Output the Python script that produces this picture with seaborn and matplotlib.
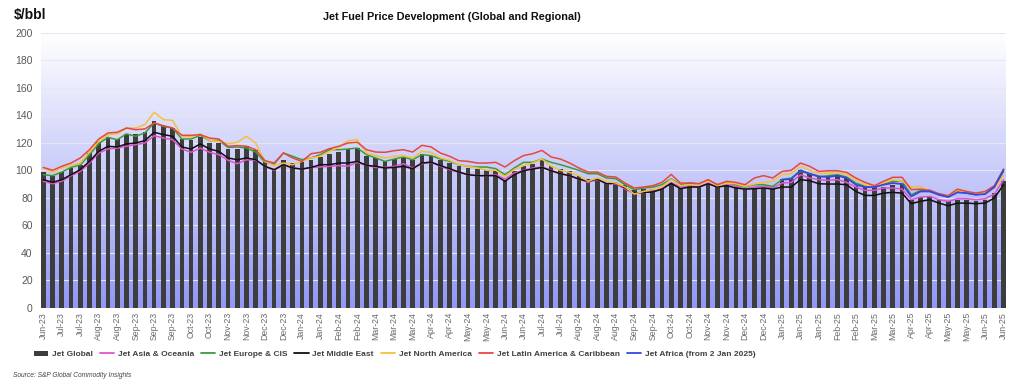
import numpy as np
import pandas as pd
import matplotlib
matplotlib.use("Agg")
import matplotlib.pyplot as plt
from matplotlib.colors import LinearSegmentedColormap
from matplotlib.lines import Line2D
from matplotlib.patches import Patch
import seaborn as sns

# ---------------- data ----------------
dates = pd.date_range("2023-06-23", periods=105, freq="7D")
tick_labels = [d.strftime("%b-%y") for d in dates]

jet_global = [98.5, 96.1, 98.5, 101.7, 103.9, 112.6, 120.4, 124.3, 123.1, 126.7,
              126.7, 128.2, 135.7, 132.3, 130.6, 122.8, 122.3, 124.3, 119.9, 119.9,
              115.5, 115.5, 118.0, 114.5, 106.0, 101.0, 107.7, 105.3, 105.8, 107.7,
              109.4, 112.1, 113.3, 115.5,
              116.2, 110.2, 109.0, 107.0, 108.2, 109.7, 107.7, 112.1, 110.7, 107.7,
              105.3, 103.4, 101.7, 101.2, 100.0, 100.0, 93.2, 99.2, 102.9, 104.8,
              107.3, 103.4, 100.9, 99.2, 96.1, 93.6, 93.6, 90.7, 90.7, 89.5,
              85.9, 86.3, 86.3, 87.8,
              91.0, 87.1, 89.5, 88.3, 90.7, 87.8, 89.5, 87.8, 86.3, 87.1,
              87.1, 86.3, 93.6, 93.6, 100.0, 98.0, 96.1, 96.1, 96.1, 94.4,
              88.8, 87.8, 87.8, 87.8, 89.5, 90.2, 78.6, 80.5, 81.0, 78.6,
              77.8, 78.6, 78.6, 77.8, 78.6, 83.4, 92.0]

asia_oceania = [92.0, 90.2, 92.0, 96.1, 99.2, 105.3, 112.6, 115.5, 116.2, 117.5,
                118.7, 119.9, 125.2, 123.5, 122.3, 115.5, 113.1, 116.2, 113.1, 111.4,
                107.3, 104.8, 107.7, 107.3, 102.9, 100.0, 104.1, 101.7, 100.9, 102.1,
                102.4, 102.9, 103.4, 103.0,
                105.8, 103.6, 102.1, 102.1, 102.9, 104.8, 101.7, 104.8, 105.8, 102.9,
                100.5, 98.5, 96.8, 96.1, 96.1, 96.8, 93.6, 98.0, 100.0, 101.7,
                102.4, 100.0, 97.5, 96.1, 93.6, 91.2, 93.2, 90.2, 90.2, 86.3,
                83.0, 83.9, 84.4, 86.8,
                91.0, 87.8, 88.8, 87.8, 90.7, 87.8, 89.5, 88.3, 86.3, 87.8,
                88.3, 87.1, 90.7, 91.2, 96.8, 94.4, 93.2, 92.7, 93.2, 91.2,
                87.8, 85.4, 85.4, 87.1, 87.1, 86.3, 78.6, 80.5, 81.0, 78.6,
                77.4, 79.3, 79.3, 78.6, 79.3, 82.7, 93.2]

europe_cis = [96.8, 96.1, 98.7, 102.1, 103.9, 111.4, 119.4, 124.0, 122.3, 126.5,
              124.8, 127.2, 134.5, 132.0, 130.8, 122.8, 122.8, 125.5, 121.6, 121.8,
              116.7, 117.0, 116.2, 113.3, 105.8, 104.6, 112.6, 110.2, 107.7, 109.0,
              111.4, 115.0, 115.0, 115.5,
              116.2, 111.4, 109.0, 106.5, 108.2, 109.7, 107.7, 111.4, 110.7, 108.2,
              106.5, 104.1, 102.9, 102.4, 102.4, 101.2, 96.8, 101.7, 105.8, 105.8,
              108.2, 105.8, 104.1, 102.1, 100.0, 97.5, 97.5, 94.4, 93.9, 89.5,
              85.9, 87.1, 87.8, 89.5,
              93.8, 89.5, 90.7, 90.2, 92.7, 89.5, 90.7, 89.5, 87.8, 89.5,
              89.5, 88.3, 93.2, 94.4, 99.2, 97.5, 95.1, 96.1, 96.8, 95.1,
              90.7, 88.3, 87.8, 90.2, 92.0, 92.0, 82.2, 85.4, 85.4, 82.2,
              81.0, 84.6, 83.4, 82.2, 83.4, 87.8, 99.2]

middle_east = [93.2, 91.2, 93.2, 96.8, 100.5, 106.5, 113.8, 117.5, 117.0, 119.2,
               119.9, 121.6, 127.7, 126.0, 124.8, 117.0, 115.5, 119.2, 115.5, 113.8,
               109.0, 107.7, 109.0, 107.7, 102.9, 100.5, 104.1, 101.7, 100.9, 102.1,
               104.1, 104.1, 105.3, 105.3,
               106.5, 103.6, 102.9, 101.7, 102.1, 102.9, 101.2, 105.3, 106.0, 103.4,
               101.2, 98.7, 96.8, 96.1, 96.1, 96.1, 92.0, 96.8, 99.7, 100.9,
               102.1, 99.7, 97.5, 96.1, 93.6, 92.0, 93.6, 90.2, 90.7, 87.1,
               83.4, 83.9, 84.2, 86.3,
               90.5, 86.6, 87.8, 87.8, 90.2, 87.8, 88.8, 87.1, 86.3, 86.6,
               87.1, 86.3, 87.8, 87.8, 93.2, 92.4, 90.2, 90.0, 90.0, 89.5,
               84.6, 81.7, 81.7, 83.4, 83.9, 83.4, 75.7, 77.4, 78.6, 76.1,
               74.2, 76.1, 76.1, 75.7, 76.1, 79.8, 89.5]

north_america = [101.7, 98.5, 101.7, 103.6, 105.3, 113.1, 121.1, 126.0, 126.5, 130.8,
                 130.8, 133.3, 142.3, 136.9, 136.4, 124.8, 124.3, 126.5, 121.8, 121.1,
                 119.4, 120.4, 124.8, 119.9, 106.5, 103.4, 105.3, 104.1, 106.5, 109.0,
                 110.2, 113.8, 116.7, 121.6,
                 122.3, 112.6, 110.7, 109.0, 110.2, 110.7, 109.0, 113.8, 113.1, 109.0,
                 107.3, 104.1, 102.9, 101.7, 100.0, 100.0, 95.6, 100.5, 103.4, 105.3,
                 108.2, 102.9, 100.0, 98.5, 96.1, 92.0, 94.4, 92.0, 90.7, 87.8,
                 82.7, 84.6, 85.9, 87.8,
                 93.4, 88.8, 89.5, 89.5, 92.4, 88.8, 90.7, 90.2, 88.3, 90.0,
                 91.2, 92.0, 96.8, 97.5, 102.9, 100.0, 97.5, 98.0, 98.5, 96.8,
                 93.2, 89.5, 87.8, 90.7, 93.2, 92.0, 87.8, 88.3, 84.6, 82.7,
                 81.0, 85.4, 83.4, 82.7, 83.4, 87.1, 96.1]

latam_caribbean = [102.1, 100.0, 102.9, 105.3, 109.0, 115.0, 122.8, 127.2, 127.7, 130.8,
                   129.6, 130.1, 134.5, 132.5, 130.8, 125.5, 125.5, 126.0, 123.5, 122.8,
                   117.5, 118.0, 117.5, 115.0, 107.0, 105.3, 112.6, 109.0, 106.5, 112.1,
                   113.1, 115.8, 117.5, 119.9,
                   120.4, 115.0, 113.3, 113.1, 114.3, 115.0, 113.3, 118.2, 117.0, 112.6,
                   110.2, 107.0, 106.5, 105.3, 105.3, 105.8, 102.4, 107.0, 110.7, 112.1,
                   114.5, 109.7, 108.2, 105.3, 101.7, 98.7, 98.7, 95.6, 95.1, 90.7,
                   87.1, 87.8, 88.8, 91.2,
                   97.0, 90.7, 90.7, 90.2, 93.2, 89.5, 92.0, 91.2, 89.5, 94.4,
                   96.1, 94.4, 99.2, 100.0, 105.3, 102.9, 99.2, 99.7, 99.7, 98.5,
                   94.4, 91.2, 88.8, 92.0, 94.9, 94.9, 85.9, 86.3, 85.4, 83.0,
                   81.5, 86.3, 84.6, 83.4, 84.6, 88.8, 100.9]

africa_start = 80  # first week of 2025 (from 2 Jan 2025)
africa = [93.2, 93.6, 100.0, 97.5, 95.6, 95.1, 96.1, 94.4, 89.5, 87.8,
          87.8, 89.5, 90.7, 90.0, 81.0, 84.6, 84.6, 82.2, 80.5, 83.9,
          83.4, 82.2, 82.7, 87.8, 100.4]

# ---------------- figure ----------------
sns.set_theme(style="white")
plt.rcParams["font.family"] = ["Liberation Sans", "DejaVu Sans"]

fig = plt.figure(figsize=(10.13, 3.84), dpi=100)
ax = fig.add_axes([0.0405, 0.199, 0.9525, 0.715])

n = len(jet_global)
pos = np.arange(n)
xmin, xmax = -0.25, n - 1 + 0.25

# gradient background
cmap = LinearSegmentedColormap.from_list("bg", ["#9197f6", "#c9ccfa", "#ffffff"])
grad = np.linspace(0, 1, 256).reshape(-1, 1)
ax.imshow(grad, extent=[xmin, xmax, 0, 200], origin="lower", aspect="auto",
          cmap=cmap, zorder=0, interpolation="bicubic")

df = pd.DataFrame({"pos": pos, "val": jet_global})
sns.barplot(data=df, x="pos", y="val", ax=ax, color="#3d3d3d", width=0.5,
            saturation=1, zorder=2, linewidth=0)

line_specs = [
    (asia_oceania, "#e252cf", "Jet Asia & Oceania"),
    (europe_cis, "#3c9a3c", "Jet Europe & CIS"),
    (middle_east, "#111111", "Jet Middle East"),
    (north_america, "#f3c23a", "Jet North America"),
    (latam_caribbean, "#e8473f", "Jet Latin America & Caribbean"),
]
for vals, col, lab in line_specs:
    sns.lineplot(x=pos, y=vals, ax=ax, color=col, linewidth=1.1, zorder=3)
sns.lineplot(x=pos[africa_start:], y=africa, ax=ax, color="#3447e0",
             linewidth=1.3, zorder=4)

ax.set_xlim(xmin, xmax)
ax.set_ylim(0, 200)
ax.set_yticks(np.arange(0, 201, 20))
ax.set_xticks(pos[::2])
ax.set_xticklabels(tick_labels[::2], rotation=90, fontsize=6.3, color="#6a6a6a")
ax.tick_params(axis="y", labelsize=7.5, labelcolor="#595959", length=0, pad=6)
ax.tick_params(axis="x", length=0, pad=3)
ax.set_xlabel("")
ax.set_ylabel("")
ax.set_axisbelow(True)
ax.yaxis.grid(False)
ax.xaxis.grid(False)
for s in ax.spines.values():
    s.set_visible(False)
for yv in np.arange(20, 201, 20):
    ax.axhline(yv, color="#e6e6ee", linewidth=0.8, zorder=1)

fig.text(0.446, 0.955, "Jet Fuel Price Development (Global and Regional)",
         ha="center", va="center", fontsize=7.8, fontweight="bold", color="#111111")
fig.text(0.014, 0.962, "$/bbl", ha="left", va="center", fontsize=10,
         fontweight="bold", color="#111111")
fig.text(0.013, 0.012, "Source: S&P Global Commodity Insights", ha="left",
         va="bottom", fontsize=4.8, style="italic", color="#444444")

handles = [Patch(facecolor="#3d3d3d", edgecolor="none", label="Jet Global")]
for vals, col, lab in line_specs:
    handles.append(Line2D([0], [0], color=col, linewidth=1.3, label=lab))
handles.append(Line2D([0], [0], color="#3447e0", linewidth=1.3,
                      label="Jet Africa (from 2 Jan 2025)"))
leg = fig.legend(handles=handles, loc="center left", bbox_to_anchor=(0.026, 0.077),
                 ncol=7, frameon=False, fontsize=6.0, handlelength=1.7,
                 handletextpad=0.45, columnspacing=0.85)
for t in leg.get_texts():
    t.set_color("#404040")
    t.set_fontweight("bold")

fig.savefig("out.png", dpi=100)
